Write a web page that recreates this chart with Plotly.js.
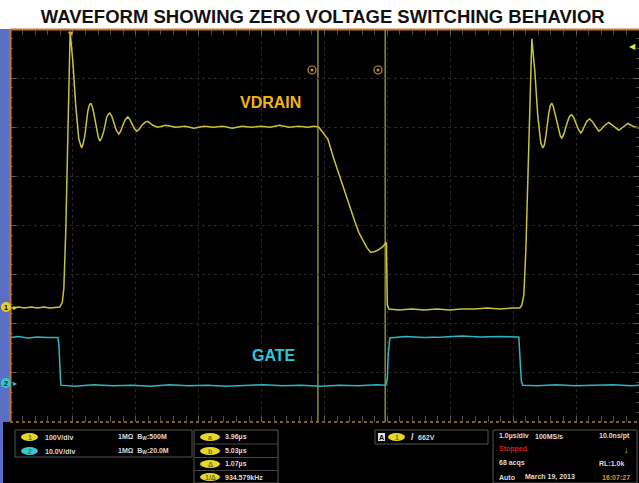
<!DOCTYPE html>
<html>
<head>
<meta charset="utf-8">
<script src="https://cdn.plot.ly/plotly-3.0.1.min.js"></script>
<style>html,body{margin:0;padding:0;background:#fff;}#chart{width:639px;height:483px;}</style>
</head>
<body>
<div id="chart"></div>
<script>
// ---- Data (time in µs relative to trigger, volts) ----
const vdrainT = [-0.92,-0.80,-0.70,-0.60,-0.50,-0.40,-0.30,-0.20,-0.143,-0.103,-0.079,-0.048,-0.016,0.008,0.021,
  0.064,0.111,0.159,0.185,0.202,0.228,0.254,0.302,0.327,0.350,0.373,0.397,0.445,0.470,0.493,0.525,0.556,0.580,0.604,0.630,0.652,
  0.685,0.715,0.755,0.795,0.825,0.859,0.900,0.938,0.970,1.002,1.040,1.081,1.120,1.161,1.210,1.256,1.300,1.335,1.415,1.54,1.70,
  1.85,1.99,2.15,2.30,2.45,2.60,2.75,2.90,3.05,3.20,3.35,3.50,3.65,3.80,3.90,3.975,
  4.038,4.118,4.213,4.293,4.356,4.420,4.483,4.547,4.610,4.674,4.738,4.801,4.865,4.928,4.992,5.048,5.064,5.087,
  5.25,5.45,5.65,5.85,6.05,6.25,6.45,6.65,6.85,7.05,7.170,7.202,7.234,7.266,7.305,7.337,7.361,7.409,7.456,7.504,
  7.536,7.560,7.584,7.631,7.655,7.679,7.703,7.727,7.790,7.815,7.838,7.870,7.901,7.949,7.975,7.997,8.030,8.060,8.100,8.140,
  8.170,8.203,8.240,8.283,8.320,8.362,8.426,8.465,8.505,8.585,8.664,8.744,8.808,8.887,8.967,9.078];
const vdrainV = [-2,0,-2,0,-2,0,-2,0,0,10,38,156,338,500,561,
  500,409,342,328,324,333,348,399,411,415,408,395,358,345,338,345,358,374,387,393,395,
  388,374,360,352,358,370,382,387,382,374,364,358,362,370,376,378,374,370,366,370,366,
  368,364,368,366,368,364,368,366,368,366,370,366,368,366,368,366,
  356,342,302,271,249,223,196,174,152,136,121,111,113,117,123,132,4,-4,
  -6,-4,-6,-4,-6,-4,-4,-2,-4,-2,-2,4,24,115,298,459,546,480,389,334,
  324,330,348,395,410,415,408,395,358,348,344,352,366,385,390,391,385,374,362,354,
  360,370,379,383,378,370,358,362,368,376,368,360,366,374,368,364];

const gateT = [-0.92,-0.80,-0.65,-0.50,-0.35,-0.20,-0.175,-0.159,-0.143,-0.127,0.10,0.40,0.70,1.00,1.30,1.60,1.90,
  2.20,2.50,2.80,3.10,3.40,3.70,4.00,4.30,4.60,4.90,5.040,5.064,5.079,5.103,5.35,5.65,5.95,6.25,6.55,6.85,7.154,
  7.178,7.194,7.218,7.45,7.75,8.05,8.35,8.65,8.95,9.078];
const gateV = [9.3,9.5,9.2,9.4,9.3,9.4,9.3,8.0,2.0,-0.4,-0.6,-0.3,-0.5,-0.4,-0.6,-0.3,-0.5,
  -0.4,-0.6,-0.4,-0.3,-0.5,-0.4,-0.6,-0.4,-0.5,-0.3,-0.4,1.0,6.0,9.2,9.5,9.3,9.4,9.6,9.4,9.5,9.4,
  5.0,0.5,-0.4,-0.5,-0.3,-0.5,-0.4,-0.3,-0.5,-0.4];

const cursorTimes = [3.96, 5.03];
const traceLabels = ["VDRAIN", "GATE"];
const channelScale = ["100V/div", "10.0V/div"];
const channelInput = ["1MΩ  B<sub>W</sub>:500M", "1MΩ  B<sub>W</sub>:20.0M"];
const cursorNames = ["a", "b", "Δ", "1/Δ"];
const cursorReadouts = ["3.96µs", "5.03µs", "1.07µs", "934.579kHz"];
const triggerLevel = "662V";

// ---- pixel helpers (margins are zero, so paper = figure fraction) ----
const W = 639, H = 483;
const px = x => x / W;
const py = y => 1 - y / H;

const yellow = '#c9c23c', cyan = '#2fb5c0', orange = '#c87828', blue = '#5a6ec8';
const panelFont = {family: 'Liberation Sans, Arial, sans-serif', size: 7, color: '#dcdcdc'};

const shapes = [];
const ann = [];
function rect(x0, y0, x1, y1, fill, line, layer) {
  shapes.push({type: 'rect', xref: 'paper', yref: 'paper', x0: px(x0), x1: px(x1), y0: py(y1), y1: py(y0),
    fillcolor: fill || 'rgba(0,0,0,0)', line: line || {width: 0}, layer: layer || 'above'});
}
function ell(x0, y0, x1, y1, fill, line) {
  shapes.push({type: 'circle', xref: 'paper', yref: 'paper', x0: px(x0), x1: px(x1), y0: py(y1), y1: py(y0),
    fillcolor: fill || 'rgba(0,0,0,0)', line: line || {width: 0}, layer: 'above'});
}
function txt(t, x, y, opt) {
  opt = opt || {};
  ann.push({text: t, xref: 'paper', yref: 'paper', x: px(x), y: py(y), xanchor: opt.anchor || 'left', yanchor: 'middle',
    showarrow: false, font: Object.assign({}, panelFont, opt.font || {})});
}

// Left blue strip and bottom panel
rect(0, 29, 10, 422, blue, null, 'below');
rect(0, 422, 639, 483, '#000000', null, 'above');
rect(0, 422, 3, 483, blue, null, 'above');
// Orange borders
shapes.push({type: 'line', xref: 'paper', yref: 'paper', x0: px(10.5), x1: px(10.5), y0: py(422), y1: py(29), line: {color: orange, width: 2}, layer: 'above'});
shapes.push({type: 'line', xref: 'paper', yref: 'paper', x0: px(10), x1: px(639), y0: py(29.5), y1: py(29.5), line: {color: orange, width: 2}, layer: 'above'});
shapes.push({type: 'line', xref: 'paper', yref: 'paper', x0: px(10), x1: px(639), y0: py(422), y1: py(422), line: {color: '#8a5a28', width: 2, dash: 'dot'}, layer: 'above'});

// Cursor lines
cursorTimes.forEach(t => shapes.push({type: 'line', xref: 'x', yref: 'y domain', x0: t, x1: t, y0: 0, y1: 1,
  line: {color: '#8c8a3a', width: 1.5}, layer: 'below'}));
// Cursor markers
[[312, 70], [378, 70]].forEach(p => {
  ell(p[0] - 4, p[1] - 4, p[0] + 4, p[1] + 4, 'rgba(0,0,0,0)', {color: '#d08a30', width: 1.2});
  ell(p[0] - 1.5, p[1] - 1.5, p[0] + 1.5, p[1] + 1.5, '#d08a30');
});

// Ground markers
ell(1, 302, 11, 312, '#e8d020');
txt('<b>1</b>', 6, 307, {anchor: 'center', font: {color: '#000', size: 7}});
txt('▸', 11, 307, {font: {color: '#e8d020', size: 8}});
ell(1, 378, 11, 388, '#30c8d8');
txt('<b>2</b>', 6, 383, {anchor: 'center', font: {color: '#000', size: 7}});
txt('▸', 11, 383, {font: {color: '#30c8d8', size: 8}});
// Trigger markers
ann.push({text: '▼', xref: 'x', yref: 'paper', x: 0.02, y: py(33), xanchor: 'center', yanchor: 'middle', showarrow: false,
  font: {color: '#e0a030', size: 9}});
txt('◀', 632, 46, {anchor: 'center', font: {color: '#e8e040', size: 8}});

// Trace labels
ann.push({text: '<b>' + traceLabels[0] + '</b>', xref: 'x', yref: 'y', x: 3.21, y: 417, showarrow: false,
  xanchor: 'center', yanchor: 'middle', font: {family: 'Liberation Sans, Arial, sans-serif', size: 16, color: '#f2b515'}});
ann.push({text: '<b>' + traceLabels[1] + '</b>', xref: 'x', yref: 'y2', x: 3.26, y: 5.7, showarrow: false,
  xanchor: 'center', yanchor: 'middle', font: {family: 'Liberation Sans, Arial, sans-serif', size: 16, color: '#2ec8dc'}});

// ---- Bottom panel ----
const boxLine = {color: '#555555', width: 1};
rect(15, 430, 192, 457, null, boxLine);
[[437, '#e6d628', '1'], [451, '#36c6d6', '2']].forEach((r, i) => {
  ell(21, r[0] - 4, 38, r[0] + 4, r[1]);
  txt('<b>' + r[2] + '</b>', 29.5, r[0], {anchor: 'center', font: {color: '#707020', size: 7}});
  txt('<b>' + channelScale[i] + '</b>', 43, r[0]);
  txt('<b>' + channelInput[i] + '</b>', 116, r[0]);
});
rect(194, 430, 278, 483, null, boxLine);
[444, 457.5, 470.5].forEach(y => shapes.push({type: 'line', xref: 'paper', yref: 'paper', x0: px(194), x1: px(278),
  y0: py(y), y1: py(y), line: {color: '#444', width: 1}, layer: 'above'}));
[437, 451, 464, 477].forEach((y, i) => {
  ell(200, y - 4, 220, y + 4, '#e6d628');
  txt('<b>' + cursorNames[i] + '</b>', 210, y, {anchor: 'center', font: {color: '#707020', size: 7}});
  txt('<b>' + cursorReadouts[i] + '</b>', 223, y);
});
rect(375, 430, 488, 444, null, boxLine);
rect(378, 433, 385, 441, '#e0e0e0');
txt('<b>A</b>', 381.5, 437, {anchor: 'center', font: {color: '#000', size: 7}});
ell(388, 433, 405, 441, '#e6d628');
txt('<b>1</b>', 396.5, 437, {anchor: 'center', font: {color: '#707020', size: 7}});
txt('<b>/</b>', 409, 437, {font: {size: 9, color: '#e0e0e0'}});
txt('<b>' + triggerLevel + '</b>', 416, 437);
rect(493, 430, 637, 483, null, boxLine);
txt('<b>1.0µs/div</b>', 497, 436);
txt('<b>100MS/s</b>', 533, 436);
txt('<b>10.0ns/pt</b>', 632, 436, {anchor: 'right'});
txt('<b>Stopped</b>', 497, 449, {font: {color: '#d02020'}});
txt('<b>↓</b>', 626, 450, {anchor: 'center', font: {color: '#e8c020', size: 9}});
txt('<b>68 acqs</b>', 497, 463);
txt('<b>RL:1.0k</b>', 597, 463);
txt('<b>Auto</b>', 497, 477);
txt('<b>March 19, 2013</b>', 523, 477);
txt('<b>16:07:27</b>', 632, 477, {anchor: 'right', font: {color: '#e08a20'}});

const xDom = [10 / W, 1];
const yDom = [py(422), py(29)];

const data = [
  {x: vdrainT, y: vdrainV, type: 'scatter', mode: 'lines', yaxis: 'y', line: {color: yellow, width: 1.5}, hoverinfo: 'skip'},
  {x: gateT, y: gateV, type: 'scatter', mode: 'lines', yaxis: 'y2', line: {color: cyan, width: 1.5}, hoverinfo: 'skip'}
];

const layout = {
  width: W, height: H,
  margin: {l: 0, r: 0, t: 0, b: 0, pad: 0},
  paper_bgcolor: '#ffffff', plot_bgcolor: '#000000',
  showlegend: false,
  title: {text: '<b>WAVEFORM SHOWING ZERO VOLTAGE SWITCHING BEHAVIOR</b>', x: 0.505, xanchor: 'center',
    y: py(17), yanchor: 'middle', font: {family: 'Liberation Sans, Arial, sans-serif', size: 18.5, color: '#111'}},
  xaxis: {domain: xDom, range: [-0.935, 9.065], tick0: -0.935, dtick: 1, showgrid: true, gridcolor: '#262626',
    griddash: 'dot', gridwidth: 1, zeroline: false, showline: false, ticks: 'inside', ticklen: 6, tickcolor: '#5a5a5a',
    mirror: 'allticks', showticklabels: false, fixedrange: true,
    minor: {ticks: 'inside', ticklen: 3, tick0: -0.935, dtick: 0.2, tickcolor: '#4a4a4a', showgrid: false}},
  yaxis: {domain: yDom, range: [-234, 566], tick0: -234, dtick: 100, showgrid: true, gridcolor: '#262626',
    griddash: 'dot', gridwidth: 1, zeroline: false, showline: false, ticks: 'inside', ticklen: 6, tickcolor: '#5a5a5a',
    mirror: 'allticks', showticklabels: false, fixedrange: true,
    minor: {ticks: 'inside', ticklen: 3, tick0: -234, dtick: 20, tickcolor: '#4a4a4a', showgrid: false}},
  yaxis2: {overlaying: 'y', range: [-7.9, 72.1], visible: false, fixedrange: true},
  shapes: shapes,
  annotations: ann
};

Plotly.newPlot('chart', data, layout, {displayModeBar: false, staticPlot: true});
</script>
</body>
</html>
